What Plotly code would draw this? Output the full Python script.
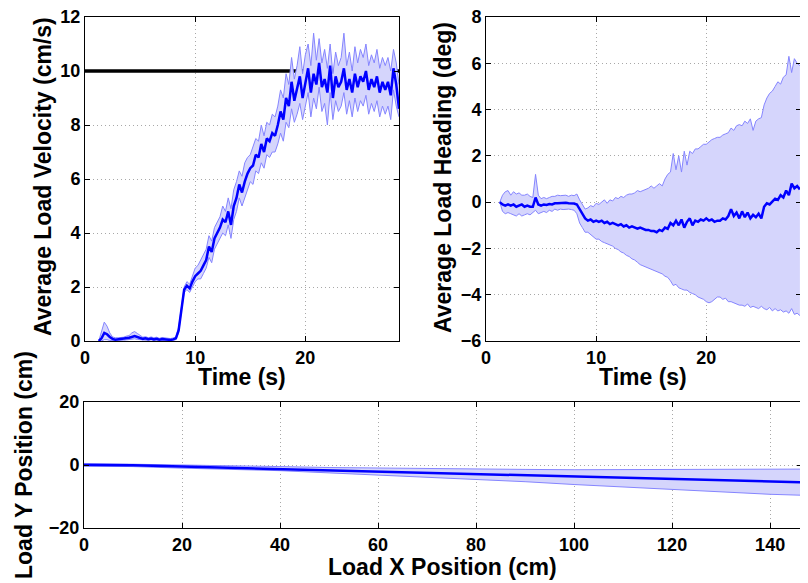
import plotly.graph_objects as go

# ---------------- data ----------------
t = [1.25, 1.5, 1.75, 2.0, 2.25, 2.5, 2.75, 3.0, 3.25, 3.5, 3.75, 4.0,
     4.25, 4.5, 4.75, 5.0, 5.25, 5.5, 5.75, 6.0, 6.25, 6.5, 6.75, 7.0,
     7.25, 7.5, 7.75, 8.0, 8.25, 8.5, 8.75, 9.0, 9.25, 9.5, 9.75, 10.0,
     10.25, 10.5, 10.75, 11.0, 11.25, 11.5, 11.75, 12.0, 12.25, 12.5, 12.75, 13.0,
     13.25, 13.5, 13.75, 14.0, 14.25, 14.5, 14.75, 15.0, 15.25, 15.5, 15.75, 16.0,
     16.25, 16.5, 16.75, 17.0, 17.25, 17.5, 17.75, 18.0, 18.25, 18.5, 18.75, 19.0,
     19.25, 19.5, 19.75, 20.0, 20.25, 20.5, 20.75, 21.0, 21.25, 21.5, 21.75, 22.0,
     22.25, 22.5, 22.75, 23.0, 23.25, 23.5, 23.75, 24.0, 24.25, 24.5, 24.75, 25.0,
     25.25, 25.5, 25.75, 26.0, 26.25, 26.5, 26.75, 27.0, 27.25, 27.5, 27.75, 28.0,
     28.25, 28.5]

vel_mean = [0.0, 0.1, 0.3, 0.25, 0.15, 0.08, 0.05, 0.06, 0.07, 0.08, 0.1, 0.12,
            0.15, 0.18, 0.15, 0.12, 0.08, 0.1, 0.07, 0.09, 0.06, 0.08, 0.05, 0.07,
            0.06, 0.05, 0.04, 0.06, 0.1, 0.4, 1.2, 1.9, 2.05, 1.95, 2.2, 2.4,
            2.5, 2.6, 2.8, 3.0, 3.5, 3.3, 3.8, 4.0, 4.2, 4.5, 4.4, 4.8,
            4.3, 5.0, 5.3, 5.8, 5.5, 5.9, 6.2, 6.4, 6.5, 6.9, 6.8, 7.3,
            7.0, 7.5, 7.4, 7.7, 7.6, 8.0, 8.5, 8.2, 9.0, 8.7, 9.6, 8.9,
            9.3, 9.8, 9.0, 9.6, 10.1, 9.2, 9.9, 9.5, 10.3, 9.4, 9.7, 9.2,
            10.2, 9.0, 9.8, 9.4, 9.6, 10.1, 9.3, 9.7, 9.2, 9.9, 9.4, 9.8,
            9.6, 10.0, 9.3, 9.7, 9.4, 9.8, 9.2, 9.6, 9.3, 9.6, 9.1, 10.1,
            9.5, 8.6]

vel_upper = [0.0, 0.4, 0.7, 0.55, 0.3, 0.15, 0.12, 0.12, 0.13, 0.14, 0.18, 0.2,
             0.3, 0.35, 0.28, 0.2, 0.14, 0.16, 0.12, 0.15, 0.12, 0.14, 0.1, 0.13,
             0.12, 0.1, 0.09, 0.11, 0.15, 0.5, 1.3, 2.0, 2.2, 2.1, 2.4, 2.7,
             2.8, 3.0, 3.2, 3.4, 3.9, 3.7, 4.2, 4.4, 4.6, 5.0, 4.8, 5.3,
             4.9, 5.6, 5.9, 6.3, 6.1, 6.6, 6.8, 6.9, 7.2, 7.5, 7.4, 8.0,
             7.6, 8.1, 8.0, 8.4, 8.3, 8.7, 9.3, 9.0, 9.9, 9.5, 10.5, 9.7,
             10.2, 10.9, 9.9, 10.6, 11.0, 10.2, 11.4, 10.4, 11.2, 10.3, 10.8, 10.1,
             11.0, 9.9, 10.7, 10.2, 10.5, 11.4, 10.2, 10.7, 10.0, 10.9, 10.3, 10.8,
             10.5, 11.0, 10.2, 10.6, 10.3, 10.8, 10.1, 10.5, 10.2, 10.5, 10.0, 10.8,
             10.3, 9.5]

vel_lower = [0.0, 0.0, 0.05, 0.05, 0.02, 0.02, 0.01, 0.02, 0.02, 0.03, 0.04, 0.05,
             0.06, 0.08, 0.06, 0.05, 0.03, 0.04, 0.02, 0.04, 0.02, 0.03, 0.01, 0.02,
             0.02, 0.01, 0.01, 0.02, 0.05, 0.3, 1.1, 1.8, 1.9, 1.8, 2.0, 2.2,
             2.3, 2.3, 2.5, 2.7, 3.1, 2.9, 3.4, 3.6, 3.8, 4.0, 3.9, 4.3,
             3.8, 4.5, 4.8, 5.3, 5.0, 5.3, 5.6, 5.9, 5.8, 6.3, 6.2, 6.6,
             6.4, 6.9, 6.8, 7.0, 7.0, 7.3, 7.7, 7.4, 8.1, 7.9, 8.6, 8.1,
             8.4, 8.8, 8.2, 8.7, 9.2, 8.3, 9.0, 8.6, 9.4, 8.5, 8.8, 8.0,
             9.2, 8.2, 8.9, 8.5, 8.7, 9.2, 8.4, 8.9, 8.3, 9.0, 8.5, 8.9,
             8.7, 9.1, 8.4, 8.8, 8.5, 8.9, 8.3, 8.7, 8.4, 8.7, 8.2, 9.3,
             8.7, 8.3]

ref_t = [0, 28.5]
ref_vel = [10, 10]

head_mean = [0.0, -0.1, -0.15, -0.1, -0.15, -0.1, -0.2, -0.15, -0.1, -0.2, -0.15, -0.2,
             -0.2, 0.2, -0.1, -0.15, -0.1, -0.12, -0.08, -0.1, -0.05, -0.05, -0.04, -0.05,
             -0.03, -0.05, -0.04, -0.06, -0.1, -0.3, -0.55, -0.7, -0.8, -0.75, -0.85, -0.8,
             -0.85, -0.8, -0.9, -0.85, -0.95, -0.9, -0.95, -1.0, -0.95, -1.05, -1.0, -1.1,
             -1.05, -1.1, -1.15, -1.1, -1.15, -1.2, -1.2, -1.25, -1.25, -1.3, -1.2, -1.25,
             -1.1, -1.15, -0.9, -1.0, -0.8, -1.0, -0.75, -1.1, -0.85, -0.7, -1.0, -0.8,
             -0.85, -0.75, -0.8, -0.7, -0.8, -0.75, -0.85, -0.8, -0.8, -0.7, -0.75, -0.6,
             -0.3, -0.6, -0.45, -0.7, -0.4, -0.65, -0.45, -0.7, -0.55, -0.65, -0.5, -0.7,
             -0.2, -0.05, -0.1, 0.05, 0.15, 0.1, 0.3, 0.2, 0.5, 0.3, 0.8, 0.6,
             0.7, 0.55]

head_upper = [0.0, 0.3, 0.45, 0.5, 0.3, 0.45, 0.35, 0.4, 0.3, 0.3, 0.35, 0.25,
              0.2, 1.2, 0.3, 0.15, 0.2, 0.15, 0.2, 0.25, 0.25, 0.3, 0.28, 0.3,
              0.3, 0.25, 0.3, 0.28, 0.35, 0.1, -0.1, -0.3, -0.25, -0.15, -0.2, -0.05,
              -0.1, 0.0, 0.1, -0.05, 0.1, 0.05, 0.2, 0.15, 0.25, 0.2, 0.3, 0.35,
              0.35, 0.4, 0.5, 0.45, 0.5, 0.55, 0.6, 0.7, 0.6, 0.7, 0.8, 0.7,
              1.0, 1.2, 1.3, 2.1, 1.4, 2.0, 1.3, 2.2, 1.6, 2.2, 2.1, 2.3,
              2.3, 2.4, 2.5, 2.5, 2.6, 2.7, 2.75, 2.8, 2.8, 2.9, 2.95, 3.0,
              3.2, 3.1, 3.3, 3.35, 3.3, 3.5, 3.4, 3.6, 3.1, 3.5, 3.6, 3.65,
              4.2, 4.5, 4.7, 4.8, 5.0, 5.2, 5.1, 5.4, 5.5, 6.3, 5.6, 6.2,
              6.0, 5.9]

head_lower = [0.0, -0.4, -0.5, -0.45, -0.5, -0.55, -0.6, -0.5, -0.6, -0.55, -0.5, -0.55,
              -0.45, -0.35, -0.5, -0.45, -0.4, -0.45, -0.35, -0.4, -0.3, -0.35, -0.3, -0.32,
              -0.3, -0.3, -0.32, -0.35, -0.5, -0.9, -1.1, -1.3, -1.3, -1.4, -1.5, -1.6,
              -1.6, -1.7, -1.75, -1.8, -1.85, -1.9, -2.0, -2.05, -2.15, -2.2, -2.3, -2.35,
              -2.45, -2.5, -2.6, -2.7, -2.75, -2.8, -2.85, -2.9, -2.95, -3.0, -3.05, -3.1,
              -3.2, -3.25, -3.4, -3.6, -3.55, -3.7, -3.75, -3.8, -3.8, -3.9, -3.95, -4.0,
              -4.1, -4.15, -4.2, -4.3, -4.35, -4.3, -4.2, -4.1, -4.1, -4.2, -4.15, -4.3,
              -4.3, -4.35, -4.4, -4.45, -4.45, -4.5, -4.4, -4.55, -4.5, -4.55, -4.6, -4.5,
              -4.6, -4.65, -4.55, -4.7, -4.6, -4.7, -4.65, -4.75, -4.7, -4.8, -4.6, -4.85,
              -4.8, -4.9]

pos_x = [0, 10, 20, 30, 40, 50, 60, 70, 80, 90, 100, 110, 120, 130, 140, 146.5]
pos_y_mean = [0.0, -0.1, -0.5, -0.9, -1.2, -1.6, -2.0, -2.5, -3.0, -3.4, -3.8, -4.2,
              -4.6, -5.0, -5.3, -5.5]
pos_y_upper = [0.5, 0.3, 0.0, -0.3, -0.5, -0.8, -1.0, -1.2, -1.3, -1.4, -1.5, -1.5,
               -1.4, -1.4, -1.3, -1.3]
pos_y_lower = [-0.3, -0.5, -1.0, -1.4, -1.8, -2.5, -3.2, -3.9, -4.5, -5.3, -6.2, -7.0,
               -7.8, -8.7, -9.3, -9.6]

vel_ticks = [0, 2, 4, 6, 8, 10, 12]
head_ticks = [-6, -4, -2, 0, 2, 4, 6, 8]
time_ticks = [0, 10, 20]
posx_ticks = [0, 20, 40, 60, 80, 100, 120, 140]
posy_ticks = [-20, 0, 20]

# ---------------- style ----------------
# the page body has an 8px margin, so the figure is sized to fit the
# 808x583 window exactly and page pixel positions are offset by 8px
OFF = 8
W, H = 808 - OFF, 583 - OFF
FONT = "Liberation Sans"
MEAN_C = "#0000ff"
BOUND_C = "#8585ff"
FILL_C = "#d5d5fc"

fig = go.Figure()

def band(x, lo, hi, mean, xa, ya):
    fig.add_trace(go.Scatter(x=x, y=lo, mode="lines", xaxis=xa, yaxis=ya,
                             line=dict(color=BOUND_C, width=1), hoverinfo="skip"))
    fig.add_trace(go.Scatter(x=x, y=hi, mode="lines", xaxis=xa, yaxis=ya, fill="tonexty",
                             fillcolor=FILL_C, line=dict(color=BOUND_C, width=1),
                             hoverinfo="skip"))
    fig.add_trace(go.Scatter(x=x, y=mean, mode="lines", xaxis=xa, yaxis=ya,
                             line=dict(color=MEAN_C, width=2.5)))

# plot 1
fig.add_trace(go.Scatter(x=ref_t, y=ref_vel, mode="lines", xaxis="x", yaxis="y",
                         line=dict(color="black", width=3.5)))
band(t, vel_lower, vel_upper, vel_mean, "x", "y")
# plot 2
band(t, head_lower, head_upper, head_mean, "x2", "y2")
# plot 3
band(pos_x, pos_y_lower, pos_y_upper, pos_y_mean, "x3", "y3")

def ax(domain, rng, ticks, anchor):
    return dict(domain=domain, range=rng, tickvals=ticks, anchor=anchor,
                showline=True, linecolor="black", linewidth=1, mirror="ticks",
                ticks="inside", ticklen=5, tickcolor="black",
                showgrid=True, gridcolor="#a8a8a8", griddash="1px,3px", gridwidth=1,
                zeroline=False, automargin=False, ticklabeloverflow="allow",
                tickfont=dict(family=FONT, size=18, color="black", weight="bold"))

def fx(px):
    return (px - OFF) / W

def fy(py):
    return 1 - (py - OFF) / H

fig.update_layout(
    width=W, height=H, margin=dict(l=0, r=0, t=0, b=0, autoexpand=False),
    paper_bgcolor="white", plot_bgcolor="white", showlegend=False,
    xaxis=ax([fx(85), fx(399)], [0, 28.5], time_ticks, "y"),
    yaxis=ax([fy(341), fy(17)], [0, 12], vel_ticks, "x"),
    xaxis2=ax([fx(486), fx(801)], [0, 28.6], time_ticks, "y2"),
    yaxis2=ax([fy(341), fy(17)], [-6, 8], head_ticks, "x2"),
    xaxis3=ax([fx(84), fx(802)], [0, 146.5], posx_ticks, "y3"),
    yaxis3=ax([fy(528), fy(402)], [-20, 20], posy_ticks, "x3"),
)

TF = dict(family=FONT, size=23, color="black", weight="bold")
annots = [
    dict(text="Time (s)", x=fx(242), y=fy(377)),
    dict(text="Time (s)", x=fx(643), y=fy(377)),
    dict(text="Load X Position (cm)", x=fx(443), y=fy(567)),
    dict(text="Average Load Velocity (cm/s)", x=fx(43), y=fy(177), textangle=-90),
    dict(text="Average Load Heading (deg)", x=fx(443), y=fy(177), textangle=-90),
    dict(text="Load Y Position (cm)", x=fx(24), y=fy(465), textangle=-90),
]
for a in annots:
    fig.add_annotation(xref="paper", yref="paper", showarrow=False,
                       xanchor="center", yanchor="middle", font=TF, **a)

fig.write_html("out.html")
